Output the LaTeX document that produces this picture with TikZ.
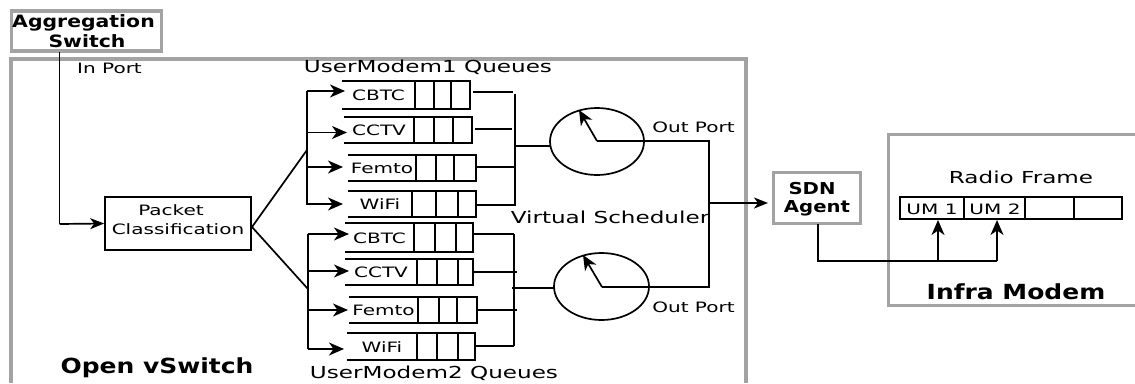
\documentclass[tikz,border=0pt]{standalone}
\usepackage{fontspec}
\usetikzlibrary{arrows.meta,shapes.geometric}
\newfontfamily\dvreg[FakeStretch=1.4]{DejaVu Sans}
\newfontfamily\dvbold[FakeStretch=1.2]{DejaVu Sans Bold}
\definecolor{framegrey}{HTML}{A3A3A3}
\newcommand{\qqbox}[9]{%
  % #1 name, #2 x left, #3 x right, #4 top, #5 bottom, #6 #7 #8 dividers, #9 label
  \draw[wire] (#2,#4) -- (#3,#4) -- (#3,#5) -- (#2,#5);
  \draw[thinwire] (#6,#4) -- (#6,#5) (#7,#4) -- (#7,#5) (#8,#4) -- (#8,#5);
  \node[qlabel] (#1) at ({(#2+#6)/2},{(#4+#5)/2+0.5}) {#9};
}
\tikzset{
  wire/.style={draw=black,line width=1.7pt},
  thinwire/.style={draw=black,line width=1.4pt},
  arrowwire/.style={wire,-{Stealth[length=15pt,width=13pt,inset=4.5pt]}},
  smallarrow/.style={wire,-{Stealth[length=14pt,width=11pt,inset=4pt]}},
  frameline/.style={draw=framegrey,line width=3.4pt},
  framebox/.style={draw=framegrey,line width=3.4pt,fill=white,inner sep=0pt,align=center},
  qlabel/.style={inner sep=0pt,font=\dvreg\fontsize{14.3}{17}\selectfont},
  lbl/.style={inner sep=0pt,font=\dvreg\fontsize{16.5}{20}\selectfont},
  bld/.style={inner sep=0pt,font=\dvbold\fontsize{20.8}{24}\selectfont},
  bldsmall/.style={inner sep=0pt,font=\dvbold\fontsize{17}{20}\selectfont},
  bldsdn/.style={inner sep=0pt,font=\dvbold\fontsize{16.4}{19}\selectfont},
}
\begin{document}
\begin{tikzpicture}[x=1pt,y=-1pt]
\useasboundingbox (0,0) rectangle (1135,383);
\fill[white] (0,0) rectangle (1135,383);
% frames
\draw[frameline] (11,383) -- (11,59) -- (746,59) -- (746,383);
\draw[frameline] (1135,134.5) -- (888.5,134.5) -- (888.5,305.5) -- (1135,305.5);
% aggregation switch
\node[framebox,minimum width=150pt,minimum height=40pt] (agg) at (86.5,31) {};
\node[bldsmall] (aggA) at (83.5,23) {Aggregation};
\node[bldsmall] (aggB) at (87,41) {Switch};
\node[qlabel] (inport) at (109.5,68) {In Port};
% packet classification
\node[draw,line width=1.7pt,minimum width=146pt,minimum height=53pt,inner sep=0pt] (pc) at (178,223.5) {};
\node[qlabel] (pcA) at (171,210) {Packet};
\node[qlabel] (pcB) at (178,229) {Classification};
\coordinate (inTurn) at (59.5,224);
\draw[wire] (59.5,52) -- (inTurn);
\draw[smallarrow] (inTurn) -- (pc.west);
% labels
\node[lbl] (um1) at (428,67) {UserModem1 Queues};
\node[lbl] (um2) at (434,373) {UserModem2 Queues};
\node[lbl] (vs) at (610,217) {Virtual Scheduler};
\node[qlabel] (op1) at (693.5,127) {Out Port};
\node[qlabel] (op2) at (693.5,307) {Out Port};
\node[bld] (ovs) at (157,368) {Open vSwitch};
% queues upper
\qqbox{q1}{342}{470}{81}{109}{415}{434}{451}{CBTC}
\qqbox{q2}{344}{472}{117}{143}{414}{434}{453}{CCTV}
\qqbox{q3}{348}{476}{155}{181}{416}{436}{454}{Femto}
\qqbox{q4}{348}{476}{191}{217}{412}{436}{458}{WiFi}
% queues lower
\qqbox{q5}{345}{473}{223}{252}{414}{435}{456}{CBTC}
\qqbox{q6}{345}{473}{259}{285}{417}{437}{458}{CCTV}
\qqbox{q7}{349}{477}{297}{323}{418}{439}{457}{Femto}
\qqbox{q8}{347}{475}{333}{360}{417}{437}{458}{WiFi}
% input buses
\coordinate (pcOut) at (252,227);
\coordinate (busA) at (307,150);
\coordinate (busB) at (308,289);
\draw[wire] (pcOut) -- (busA);
\draw[wire] (pcOut) -- (busB);
\draw[wire] (307,91) -- (307,205);
\draw[wire] (308,234) -- (308,349);
\draw[arrowwire] (307,91) -- (345,91);
\draw[arrowwire] (307,132.5) -- (347,132.5);
\draw[arrowwire] (307,167) -- (343,167);
\draw[arrowwire] (307,204) -- (343,204);
\draw[arrowwire] (308,234) -- (349,234);
\draw[arrowwire] (308,271) -- (349,271);
\draw[arrowwire] (308,310) -- (348,310);
\draw[arrowwire] (308,349) -- (344,349);
% output buses
\draw[wire] (515,94) -- (515,206);
\draw[wire] (514,234) -- (514,346);
\draw[wire] (473,92) -- (513,92);
\draw[wire] (475,129) -- (512,129);
\draw[wire] (476,167) -- (515,167);
\draw[wire] (476,205) -- (515,205);
\draw[wire] (473,234) -- (514,234);
\draw[wire] (473,272) -- (517,272);
\draw[wire] (476,310) -- (517,310);
\draw[wire] (475,346) -- (514,346);
% schedulers
\node[draw,ellipse,line width=1.7pt,minimum width=94pt,minimum height=67pt,inner sep=0pt] (s1) at (597,141.5) {};
\node[draw,ellipse,line width=1.7pt,minimum width=95pt,minimum height=67pt,inner sep=0pt] (s2) at (601.5,286.5) {};
\draw[wire] (515,146) -- (550,146);
\draw[wire] (512,288) -- (554,288);
\coordinate (hub1) at (597,141);
\coordinate (hub2) at (602,287);
\coordinate (tip1) at (579,110);
\coordinate (tip2) at (583,255);
\draw[arrowwire] (hub1) -- (tip1);
\draw[arrowwire] (hub2) -- (tip2);
\draw[wire] (hub1) -- (709,141) -- (709,287) -- (hub2);
% sdn agent
\node[framebox,minimum width=87pt,minimum height=51pt] (sdn) at (817,198) {};
\node[bldsdn] (sdnA) at (812,189) {SDN};
\node[bldsdn] (sdnB) at (817,208) {Agent};
\coordinate (outTap) at (709,203);
\draw[smallarrow] (outTap) -- (768,203);
% radio frame
\node[lbl] (rf) at (1021,177) {Radio Frame};
\node[draw,line width=1.7pt,minimum width=222pt,minimum height=22pt,inner sep=0pt] (frame) at (1011,208) {};
\draw[thinwire] (964,197) -- (964,220) (1025,197) -- (1025,219) (1074,197) -- (1074,219);
\node[qlabel] (uma) at (932,209) {UM 1};
\node[qlabel] (umb) at (995,209) {UM 2};
\node[bld] (im) at (1016,292) {Infra Modem};
% sdn to frame
\coordinate (down) at (818,261);
\coordinate (armA) at (938,261);
\coordinate (armB) at (997,261);
\draw[wire] (818,224) -- (down) -- (armB);
\draw[arrowwire] (armA) -- (938,220);
\draw[arrowwire] (armB) -- (997,220);
\end{tikzpicture}
\end{document}
